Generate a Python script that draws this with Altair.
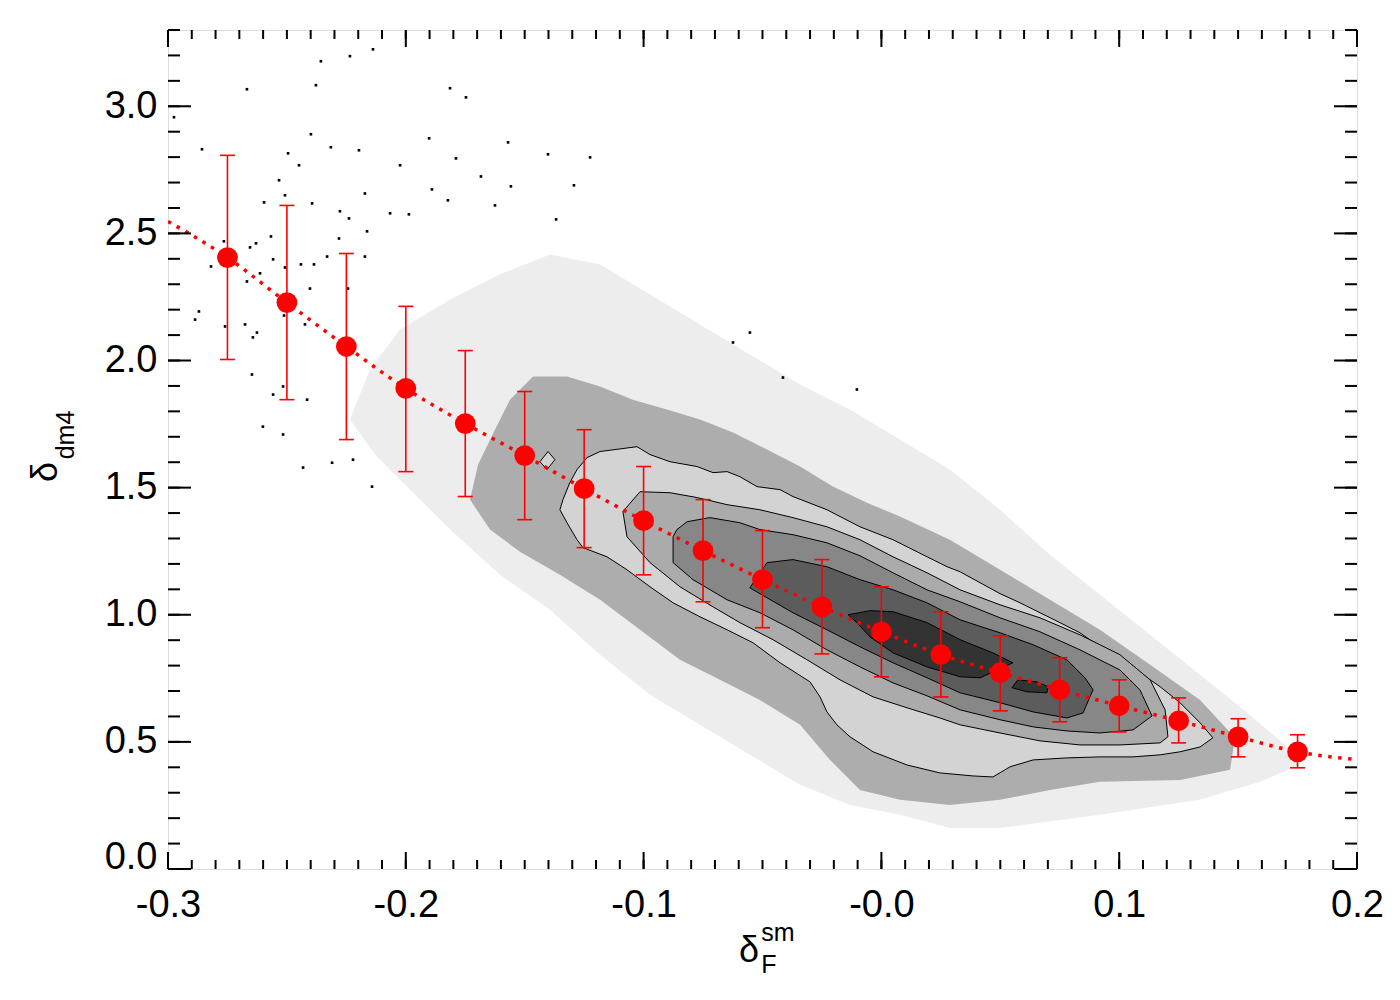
import altair as alt
import pandas as pd
import numpy as np

# ---------------- data ----------------
bin_x = [-0.275, -0.25, -0.225, -0.2, -0.175, -0.15, -0.125, -0.1, -0.075, -0.05,
         -0.025, 0.0, 0.025, 0.05, 0.075, 0.1, 0.125, 0.15, 0.175]
bin_y = [2.405, 2.228, 2.055, 1.890, 1.752, 1.626, 1.496, 1.370, 1.252, 1.138,
         1.031, 0.933, 0.843, 0.772, 0.705, 0.642, 0.583, 0.520, 0.461]
err_hi = [2.807, 2.610, 2.421, 2.213, 2.039, 1.878, 1.728, 1.583, 1.453, 1.331,
          1.217, 1.110, 1.012, 0.917, 0.831, 0.744, 0.673, 0.591, 0.528]
err_lo = [2.004, 1.846, 1.689, 1.563, 1.465, 1.374, 1.264, 1.157, 1.051, 0.949,
          0.846, 0.756, 0.677, 0.622, 0.579, 0.539, 0.496, 0.441, 0.398]

fit_x = [-0.3, -0.275, -0.25, -0.225, -0.2, -0.175, -0.15, -0.125, -0.1, -0.075, -0.05,
         -0.025, 0.0, 0.025, 0.05, 0.075, 0.1, 0.125, 0.15, 0.175, 0.2]
fit_y = [2.547, 2.405, 2.228, 2.055, 1.890, 1.752, 1.626, 1.496, 1.370, 1.252, 1.138,
         1.031, 0.933, 0.843, 0.772, 0.705, 0.642, 0.583, 0.520, 0.461, 0.430]

# sparse outlying particles (read individually)
scatter_x = [-0.2138, -0.2235, -0.2357, -0.2378, -0.2668, -0.1814, -0.1747, -0.2975, -0.2399, -0.1902,
             -0.1570, -0.2857, -0.2315, -0.2197, -0.2495, -0.1402, -0.1225, -0.1789, -0.2024, -0.2449,
             -0.1684, -0.2533, -0.1293, -0.1558, -0.1890, -0.2172, -0.2508, -0.2596, -0.2394, -0.1823,
             -0.1625, -0.2277, -0.2066, -0.1987, -0.2239, -0.1368, -0.2163, -0.2567, -0.2765, -0.2281,
             -0.2630, -0.2655, -0.2331, -0.2172, -0.2558, -0.2819, -0.2508, -0.2441, -0.2386, -0.2668,
             -0.2613, -0.2243, -0.2403, -0.2870, -0.2886, -0.2676, -0.2760, -0.2512, -0.2424, -0.2626,
             -0.2643, -0.2601, -0.2516, -0.2432, -0.2310, -0.2222, -0.2142, -0.2558, -0.2516, -0.2415,
             -0.2647, -0.0624, -0.0553, -0.0414, -0.0103]
scatter_y = [3.224, 3.197, 3.177, 3.083, 3.067, 3.071, 3.035, 2.957, 2.890, 2.874,
             2.858, 2.831, 2.839, 2.827, 2.815, 2.811, 2.799, 2.795, 2.768, 2.768,
             2.724, 2.709, 2.689, 2.685, 2.673, 2.657, 2.650, 2.622, 2.618, 2.630,
             2.610, 2.587, 2.579, 2.575, 2.559, 2.555, 2.508, 2.488, 2.469, 2.480,
             2.461, 2.445, 2.409, 2.409, 2.398, 2.370, 2.366, 2.378, 2.378, 2.311,
             2.343, 2.283, 2.283, 2.193, 2.161, 2.142, 2.134, 2.177, 2.142, 2.110,
             2.091, 1.740, 1.709, 1.579, 1.598, 1.610, 1.504, 1.866, 1.898, 1.846,
             1.945, 2.071, 2.110, 1.933, 1.886]

# envelope of the moderately populated particle halo
halo_x = [-0.2235, -0.2151, -0.2024, -0.1814, -0.1604, -0.1394, -0.1183, -0.0973, -0.0763, -0.0553,
          -0.0342, -0.0132, 0.0078, 0.0288, 0.0499, 0.0709, 0.0919, 0.1130, 0.1340, 0.1550,
          0.1697, 0.1760, 0.1592, 0.1340, 0.0919, 0.0499, 0.0288, 0.0078, -0.0132, -0.0342,
          -0.0553, -0.0763, -0.0973, -0.1183, -0.1394, -0.1604, -0.1814, -0.1982, -0.2130]
halo_y = [1.768, 1.965, 2.122, 2.240, 2.339, 2.417, 2.378, 2.260, 2.142, 2.024,
          1.906, 1.807, 1.689, 1.571, 1.413, 1.236, 1.079, 0.921, 0.764, 0.606,
          0.488, 0.409, 0.343, 0.272, 0.213, 0.161, 0.161, 0.213, 0.252, 0.331,
          0.449, 0.567, 0.685, 0.843, 1.020, 1.157, 1.335, 1.492, 1.630]

# envelope of the densely populated particle band
dense_x = [-0.1625, -0.1562, -0.1465, -0.1322, -0.1183, -0.1045, -0.0902, -0.0763, -0.0624, -0.0481,
           -0.0342, -0.0204, -0.0061, 0.0078, 0.0288, 0.0499, 0.0709, 0.0919, 0.1130, 0.1340,
           0.1487, 0.1466, 0.1256, 0.0919, 0.0709, 0.0499, 0.0288, 0.0078, -0.0090, -0.0216,
           -0.0342, -0.0511, -0.0679, -0.0847, -0.1015, -0.1183, -0.1352, -0.1520, -0.1646, -0.1730,
           -0.1696]
dense_y = [1.728, 1.846, 1.937, 1.937, 1.898, 1.846, 1.807, 1.768, 1.717, 1.650,
           1.583, 1.504, 1.441, 1.386, 1.295, 1.177, 1.059, 0.941, 0.803, 0.665,
           0.516, 0.390, 0.350, 0.343, 0.311, 0.272, 0.252, 0.272, 0.311, 0.429,
           0.567, 0.665, 0.744, 0.823, 0.941, 1.059, 1.157, 1.248, 1.335, 1.453,
           1.591]

# density contours, outermost (level 1) to innermost (level 5)
c1_x = [-0.1352, -0.1339, -0.1310, -0.1280, -0.1238, -0.1183, -0.1028, -0.0973, -0.0889, -0.0775,
        -0.0708, -0.0649, -0.0595, -0.0523, -0.0426, -0.0372, -0.0229, -0.0090, 0.0049, 0.0192,
        0.0276, 0.0331, 0.0415, 0.0499, 0.0583, 0.0667, 0.0751, 0.0835, 0.0919, 0.1003,
        0.1087, 0.1172, 0.1256, 0.1340, 0.1394, 0.1340, 0.1256, 0.1172, 0.1058, 0.0919,
        0.0780, 0.0638, 0.0541, 0.0469, 0.0385, 0.0246, 0.0108, -0.0035, -0.0132, -0.0187,
        -0.0229, -0.0258, -0.0300, -0.0426, -0.0540, -0.0649, -0.0763, -0.0876, -0.0973, -0.1070,
        -0.1154, -0.1255, -0.1280, -0.1322]
c1_y = [1.413, 1.453, 1.520, 1.571, 1.618, 1.642, 1.661, 1.630, 1.602, 1.583,
        1.559, 1.563, 1.543, 1.504, 1.492, 1.465, 1.413, 1.346, 1.295, 1.228,
        1.189, 1.169, 1.126, 1.083, 1.047, 1.008, 0.969, 0.929, 0.874, 0.823,
        0.772, 0.717, 0.654, 0.575, 0.516, 0.480, 0.461, 0.449, 0.441, 0.441,
        0.437, 0.429, 0.402, 0.362, 0.366, 0.378, 0.409, 0.461, 0.520, 0.567,
        0.618, 0.677, 0.736, 0.811, 0.890, 0.941, 0.992, 1.047, 1.110, 1.177,
        1.228, 1.264, 1.295, 1.362]
c1b_x = [-0.1436, -0.1402, -0.1373, -0.1406]
c1b_y = [1.602, 1.642, 1.610, 1.571]

c2_x = [-0.1087, -0.1015, -0.0889, -0.0775, -0.0649, -0.0511, -0.0372, -0.0229, -0.0090, 0.0049,
        0.0192, 0.0331, 0.0499, 0.0667, 0.0835, 0.1003, 0.1130, 0.1193, 0.1205, 0.1172,
        0.1003, 0.0835, 0.0667, 0.0499, 0.0331, 0.0246, 0.0108, -0.0035, -0.0174, -0.0313,
        -0.0456, -0.0595, -0.0708, -0.0847, -0.0973, -0.1070]
c2_y = [1.406, 1.484, 1.480, 1.461, 1.433, 1.413, 1.382, 1.346, 1.295, 1.228,
        1.165, 1.098, 1.039, 0.988, 0.921, 0.843, 0.744, 0.626, 0.520, 0.496,
        0.488, 0.488, 0.504, 0.535, 0.567, 0.594, 0.634, 0.677, 0.744, 0.823,
        0.902, 0.969, 1.031, 1.110, 1.205, 1.307]

c3_x = [-0.0876, -0.0860, -0.0817, -0.0721, -0.0595, -0.0511, -0.0372, -0.0229, -0.0090, 0.0049,
        0.0192, 0.0331, 0.0499, 0.0667, 0.0835, 0.1003, 0.1087, 0.1138, 0.1058, 0.0919,
        0.0780, 0.0638, 0.0499, 0.0331, 0.0192, 0.0049, -0.0090, -0.0229, -0.0372, -0.0511,
        -0.0649, -0.0792, -0.0876]
c3_y = [1.307, 1.335, 1.366, 1.382, 1.362, 1.335, 1.315, 1.283, 1.232, 1.165,
        1.098, 1.051, 0.988, 0.933, 0.862, 0.783, 0.705, 0.602, 0.547, 0.535,
        0.543, 0.559, 0.587, 0.626, 0.681, 0.732, 0.795, 0.862, 0.941, 1.008,
        1.059, 1.138, 1.205]

c4_x = [-0.0553, -0.0481, -0.0372, -0.0229, -0.0090, 0.0049, 0.0192, 0.0331, 0.0499, 0.0638,
        0.0780, 0.0856, 0.0890, 0.0848, 0.0780, 0.0638, 0.0499, 0.0331, 0.0192, 0.0049,
        -0.0090, -0.0229, -0.0372, -0.0489]
c4_y = [1.106, 1.205, 1.217, 1.189, 1.138, 1.098, 1.047, 0.980, 0.929, 0.882,
        0.823, 0.752, 0.705, 0.614, 0.594, 0.618, 0.654, 0.693, 0.752, 0.811,
        0.874, 0.941, 1.008, 1.071]

c5_x = [-0.0140, -0.0048, 0.0049, 0.0192, 0.0331, 0.0469, 0.0553, 0.0415, 0.0331, 0.0192,
        0.0049, -0.0048, -0.0103]
c5_y = [1.000, 1.016, 1.012, 0.969, 0.902, 0.850, 0.811, 0.752, 0.756, 0.795,
        0.850, 0.913, 0.969]
c5b_x = [0.0549, 0.0574, 0.0654, 0.0701, 0.0696, 0.0612]
c5b_y = [0.713, 0.744, 0.736, 0.717, 0.693, 0.697]

# axis ticks and titles
x_major = [-0.3, -0.2, -0.1, 0.0, 0.1, 0.2]
x_minor = [round(v, 2) for v in np.arange(-0.3, 0.2001, 0.01)]
y_major = [0.0, 0.5, 1.0, 1.5, 2.0, 2.5, 3.0]
y_minor = [round(v, 1) for v in np.arange(0.0, 3.3001, 0.1)]
y_title_main, y_title_sub = "δ", "dm4"
x_title_main, x_title_sup, x_title_sub = "δ", "sm", "F"

# ---------------- chart ----------------
W, H = 1189, 839
FONT = "Liberation Sans"

xscale = alt.Scale(domain=[-0.3, 0.2], nice=False, zero=False)
yscale = alt.Scale(domain=[0.0, 3.3], nice=False, zero=False)
xaxis = alt.Axis(values=x_major, ticks=False, tickSize=0, domain=False, grid=False,
                 labelFontSize=38, labelFont=FONT, labelColor="black", labelPadding=17,
                 labelFlush=False,
                 labelExpr="(datum.value < 1e-9 ? '-' : '') + format(abs(datum.value), '.1f')")
yaxis = alt.Axis(values=y_major, ticks=False, tickSize=0, domain=False, grid=False,
                 labelFontSize=38, labelFont=FONT, labelColor="black", labelPadding=11,
                 labelFlush=True, labelFlushOffset=7, format=".1f")


def X(field):
    return alt.X(field, type="quantitative", scale=xscale, axis=xaxis, title="")


def Y(field):
    return alt.Y(field, type="quantitative", scale=yscale, axis=yaxis, title="")


def poly(xs, ys, **mark):
    n = len(xs)
    df = pd.DataFrame({"x": list(xs) + [xs[0]], "y": list(ys) + [ys[0]], "i": list(range(n + 1))})
    return alt.Chart(df).mark_line(interpolate="linear", clip=True, **mark).encode(
        x=X("x"), y=Y("y"), order="i:Q")


layers = []
layers.append(poly(halo_x, halo_y, fill="black", fillOpacity=0.07, strokeOpacity=0))
layers.append(poly(dense_x, dense_y, fill="black", fillOpacity=0.27, strokeOpacity=0))

sc = pd.DataFrame({"x": scatter_x, "y": scatter_y})
layers.append(alt.Chart(sc).mark_square(size=7, color="black", opacity=1, clip=True).encode(
    x=X("x"), y=Y("y")))

for xs, ys, col in [(c1_x, c1_y, "#d3d3d3"), (c1b_x, c1b_y, "#d3d3d3"),
                    (c2_x, c2_y, "#ababab"), (c3_x, c3_y, "#878787"),
                    (c4_x, c4_y, "#5c5c5c"), (c5_x, c5_y, "#333333"),
                    (c5b_x, c5b_y, "#333333")]:
    layers.append(poly(xs, ys, fill=col, stroke="black", strokeWidth=1))

fit = pd.DataFrame({"x": fit_x, "y": fit_y})
layers.append(alt.Chart(fit).mark_line(color="#ff0000", strokeWidth=3.5, strokeDash=[3.5, 6.5],
                                       interpolate="monotone", clip=True).encode(
    x=X("x"), y=Y("y")))

bins = pd.DataFrame({"x": bin_x, "y": bin_y, "lo": err_lo, "hi": err_hi})
layers.append(alt.Chart(bins).mark_rule(color="#ff0000", strokeWidth=1.6).encode(
    x=X("x"), y=Y("lo"), y2="hi"))
layers.append(alt.Chart(bins).mark_tick(color="#ff0000", orient="horizontal", size=15,
                                        thickness=1.6, opacity=1).encode(x=X("x"), y=Y("lo")))
layers.append(alt.Chart(bins).mark_tick(color="#ff0000", orient="horizontal", size=15,
                                        thickness=1.6, opacity=1).encode(x=X("x"), y=Y("hi")))
layers.append(alt.Chart(bins).mark_circle(size=430, color="#ff0000", opacity=1).encode(
    x=X("x"), y=Y("y")))

# inward tick marks on all four sides
xmaj = pd.DataFrame({"t": x_major})
xmin = pd.DataFrame({"t": x_minor})
ymaj = pd.DataFrame({"t": y_major})
ymin = pd.DataFrame({"t": y_minor})
TW = 2
layers.append(alt.Chart(xmin).mark_rule(color="black", strokeWidth=TW).encode(
    x=X("t"), y=alt.value(H), y2=alt.value(H - 9)))
layers.append(alt.Chart(xmin).mark_rule(color="black", strokeWidth=TW).encode(
    x=X("t"), y=alt.value(0), y2=alt.value(9)))
layers.append(alt.Chart(xmaj).mark_rule(color="black", strokeWidth=TW).encode(
    x=X("t"), y=alt.value(H), y2=alt.value(H - 17)))
layers.append(alt.Chart(xmaj).mark_rule(color="black", strokeWidth=TW).encode(
    x=X("t"), y=alt.value(0), y2=alt.value(17)))
layers.append(alt.Chart(ymin).mark_rule(color="black", strokeWidth=TW).encode(
    y=Y("t"), x=alt.value(0), x2=alt.value(12)))
layers.append(alt.Chart(ymin).mark_rule(color="black", strokeWidth=TW).encode(
    y=Y("t"), x=alt.value(W), x2=alt.value(W - 12)))
layers.append(alt.Chart(ymaj).mark_rule(color="black", strokeWidth=TW).encode(
    y=Y("t"), x=alt.value(0), x2=alt.value(23)))
layers.append(alt.Chart(ymaj).mark_rule(color="black", strokeWidth=TW).encode(
    y=Y("t"), x=alt.value(W), x2=alt.value(W - 23)))


def label(text, size, px, py, angle=0):
    kw = {"angle": angle} if angle else {}
    return alt.Chart(pd.DataFrame({"t": [text]})).mark_text(
        font=FONT, fontSize=size, color="black", align="center", baseline="middle", **kw
    ).encode(text="t:N", x=alt.value(px), y=alt.value(py))


layers.append(label(y_title_main, 36, -122, 442, angle=270))
layers.append(label(y_title_sub, 25, -102, 405, angle=270))
layers.append(label(x_title_main, 36, 581, 921))
layers.append(label(x_title_sup, 25, 610, 903))
layers.append(label(x_title_sub, 25, 601, 935))

chart = alt.layer(*layers).properties(
    width=W, height=H,
    autosize=alt.AutoSizeParams(type="none"),
    padding={"left": 160, "top": 22, "right": 35, "bottom": 123},
).configure_view(stroke="black", strokeWidth=2).configure(font=FONT)

chart.save("out.html", embed_options={"renderer": "svg", "actions": False})
